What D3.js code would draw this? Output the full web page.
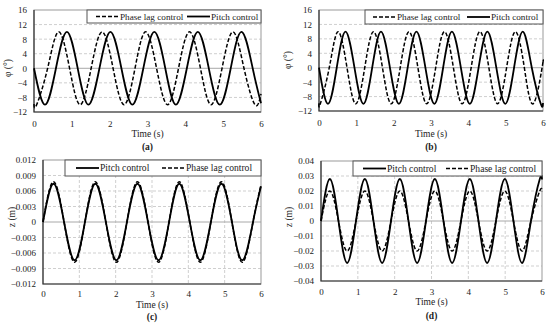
<!DOCTYPE html>
<html>
<head>
<meta charset="utf-8">
<script src="https://cdn.jsdelivr.net/npm/d3@7"></script>
<style>
body { margin: 0; background: #fff; }
svg { display: block; font-family: "Liberation Serif", serif; }
</style>
</head>
<body>
<svg id="chart" width="550" height="323"></svg>
<script>
// ---- data ----
const timeTicks = [0, 1, 2, 3, 4, 5, 6];

// (a) pitch angle, slower case
const tPitchA = [0, 0.29, 0.58, 0.87, 1.155, 1.44, 1.73, 2.02, 2.31, 2.6, 2.89, 3.18, 3.47, 3.75, 4.04, 4.33, 4.62, 4.91, 5.2, 5.49, 5.78, 6];
const vPitchA = [0, -10, 0, 10, 0, -10, 0, 10, 0, -10, 0, 10, 0, -10, 0, 10, 0, -10, 0, 10, 0, -9.6];
const tLagA = [0, 0.07, 0.36, 0.65, 0.94, 1.22, 1.51, 1.8, 2.09, 2.38, 2.67, 2.95, 3.24, 3.53, 3.82, 4.11, 4.4, 4.68, 4.97, 5.26, 5.55, 5.84, 6];
const vLagA = [-9.8, -10, 0, 10, 0, -10, 0, 10, 0, -10, 0, 10, 0, -10, 0, 10, 0, -10, 0, 10, 0, -10, -7];

// (b) pitch angle, faster case
const tPitchB = [0, 0.24, 0.475, 0.71, 0.95, 1.19, 1.425, 1.66, 1.9, 2.14, 2.375, 2.61, 2.85, 3.09, 3.325, 3.56, 3.8, 4.04, 4.275, 4.51, 4.75, 4.99, 5.225, 5.46, 5.7, 5.94, 6];
const vPitchB = [0, -10, 0, 10, 0, -10, 0, 10, 0, -10, 0, 10, 0, -10, 0, 10, 0, -10, 0, 10, 0, -10, 0, 10, 0, -10, -9.8];
const tLagB = [0, 0.035, 0.275, 0.51, 0.75, 0.985, 1.225, 1.46, 1.7, 1.935, 2.175, 2.41, 2.65, 2.885, 3.125, 3.36, 3.6, 3.835, 4.075, 4.31, 4.55, 4.785, 5.025, 5.26, 5.5, 5.735, 5.975, 6];
const vLagB = [-9.9, -10, 0, 10, 0, -10, 0, 10, 0, -10, 0, 10, 0, -10, 0, 10, 0, -10, 0, 10, 0, -10, 0, 10, 0, -10, 0, 1.6];

// (c) heave, slower case
const tHeaveC = [0, 0.29, 0.58, 0.87, 1.155, 1.44, 1.73, 2.02, 2.31, 2.6, 2.89, 3.18, 3.47, 3.75, 4.04, 4.33, 4.62, 4.91, 5.2, 5.49, 5.78, 6];
const vPitchC = [0, 0.0074, 0, -0.0074, 0, 0.0074, 0, -0.0074, 0, 0.0074, 0, -0.0074, 0, 0.0074, 0, -0.0074, 0, 0.0074, 0, -0.0074, 0, 0.0069];
const vLagC = [0, 0.0078, 0, -0.0078, 0, 0.0078, 0, -0.0078, 0, 0.0078, 0, -0.0078, 0, 0.0078, 0, -0.0078, 0, 0.0078, 0, -0.0078, 0, 0.0072];

// (d) heave, faster case
const tHeaveD = [0, 0.24, 0.475, 0.71, 0.95, 1.19, 1.425, 1.66, 1.9, 2.14, 2.375, 2.61, 2.85, 3.09, 3.325, 3.56, 3.8, 4.04, 4.275, 4.51, 4.75, 4.99, 5.225, 5.46, 5.7, 5.94, 6];
const vPitchD = [0, 0.028, 0, -0.028, 0, 0.028, 0, -0.028, 0, 0.028, 0, -0.028, 0, 0.028, 0, -0.028, 0, 0.028, 0, -0.028, 0, 0.028, 0, -0.028, 0, 0.028, 0.0277];
const vLagD = [0, 0.020, 0, -0.020, 0, 0.020, 0, -0.020, 0, 0.020, 0, -0.020, 0, 0.020, 0, -0.020, 0, 0.020, 0, -0.020, 0, 0.020, 0, -0.020, 0, 0.020, 0.0198];

const angleTicks = [-12, -8, -4, 0, 4, 8, 12, 16];
const heaveTicksC = [-0.012, -0.009, -0.006, -0.003, 0, 0.003, 0.006, 0.009, 0.012];
const heaveTicksD = [-0.04, -0.03, -0.02, -0.01, 0, 0.01, 0.02, 0.03, 0.04];

const pitchLabel = 'Pitch control';
const lagLabel = 'Phase lag control';

// ---- drawing ----
const svg = d3.select('#chart');

const fmtAngle = d => d3.format('d')(d);
const fmtC = d => (d === 0 ? '0' : d3.format('.3f')(d));
const fmtD = d => (d === 0 ? '0' : d3.format('.2f')(d));

const panels = [
    {
        box: [34, 261, 10, 112], yDomain: [-12, 16], yTicks: angleTicks, fmt: fmtAngle,
        vGrid: false, yTitle: 'φ (°)', yTitlePos: [8, 68], xPad: 8.5, timeY: 134, cap: '(a)', capY: 147,
        series: [
            { t: tPitchA, v: vPitchA, dashed: false, label: pitchLabel },
            { t: tLagA, v: vLagA, dashed: true, label: lagLabel }
        ],
        legend: { box: [87, 261, 10, 23], fs: 9.2, items: [[96, 1], [187, 0]] }
    },
    {
        box: [319, 543, 10, 111], yDomain: [-12, 16], yTicks: angleTicks, fmt: fmtAngle,
        vGrid: false, yTitle: 'φ (°)', yTitlePos: [288, 60], xPad: 8.5, timeY: 134, cap: '(b)', capY: 147,
        series: [
            { t: tPitchB, v: vPitchB, dashed: false, label: pitchLabel },
            { t: tLagB, v: vLagB, dashed: true, label: lagLabel }
        ],
        legend: { box: [365, 543, 10, 24], fs: 9.2, items: [[373, 1], [467, 0]] }
    },
    {
        box: [43, 261, 160, 284], yDomain: [-0.012, 0.012], yTicks: heaveTicksC, fmt: fmtC,
        vGrid: true, yTitle: 'z (m)', yTitlePos: [12, 217], xPad: 7, timeY: 305, cap: '(c)', capY: 317,
        series: [
            { t: tHeaveC, v: vPitchC, dashed: false, label: pitchLabel },
            { t: tHeaveC, v: vLagC, dashed: true, label: lagLabel }
        ],
        legend: { box: [65, 261, 160, 176], fs: 9.6, items: [[76, 0], [162, 1]] }
    },
    {
        box: [321, 542, 161, 281], yDomain: [-0.04, 0.04], yTicks: heaveTicksD, fmt: fmtD,
        vGrid: true, yTitle: 'z (m)', yTitlePos: [289, 217], xPad: 7.8, timeY: 302, cap: '(d)', capY: 316,
        series: [
            { t: tHeaveD, v: vPitchD, dashed: false, label: pitchLabel },
            { t: tHeaveD, v: vLagD, dashed: true, label: lagLabel }
        ],
        legend: { box: [353, 542, 161, 176], fs: 9.6, items: [[363, 0], [446, 1]] }
    }
];

const drawPanel = p => {
    const [left, right, top, bottom] = p.box;
    const x = d3.scaleLinear().domain([0, 6]).range([left, right]);
    const y = d3.scaleLinear().domain(p.yDomain).range([bottom, top]);
    const g = svg.append('g');

    // dashed grid
    const inner = p.yTicks.slice(1, -1).filter(d => d !== 0);
    g.append('g').selectAll('line').data(inner).join('line')
        .attr('x1', left).attr('x2', right)
        .attr('y1', d => y(d)).attr('y2', d => y(d))
        .attr('stroke', '#cfcfcf').attr('stroke-dasharray', '3,2');
    if (p.vGrid) {
        g.append('g').selectAll('line').data(timeTicks.slice(1, -1)).join('line')
            .attr('x1', d => x(d)).attr('x2', d => x(d))
            .attr('y1', top).attr('y2', bottom)
            .attr('stroke', '#cfcfcf').attr('stroke-dasharray', '3,2');
    }
    g.append('line')
        .attr('x1', left).attr('x2', right).attr('y1', y(0)).attr('y2', y(0))
        .attr('stroke', '#a8a8a8');

    // frame
    g.append('rect')
        .attr('x', left).attr('y', top).attr('width', right - left).attr('height', bottom - top)
        .attr('fill', 'none').attr('stroke', '#999');
    g.append('path')
        .attr('d', `M${left},${top}V${bottom}H${right}`)
        .attr('fill', 'none').attr('stroke', '#333').attr('stroke-width', 1.2);

    // axes (labels only)
    const yAxis = g.append('g').attr('transform', `translate(${left},0)`)
        .call(d3.axisLeft(y).tickValues(p.yTicks).tickFormat(p.fmt).tickSize(0).tickPadding(7));
    const xAxis = g.append('g').attr('transform', `translate(0,${bottom})`)
        .call(d3.axisBottom(x).tickValues(timeTicks).tickFormat(d3.format('d')).tickSize(0).tickPadding(p.xPad));
    [yAxis, xAxis].forEach(a => {
        a.select('.domain').remove();
        a.selectAll('text').attr('font-family', '"Liberation Serif", serif').attr('font-size', 9).attr('fill', '#222');
    });

    // series
    const line = d3.line().x(d => x(d[0])).y(d => y(d[1])).curve(d3.curveNatural);
    p.series.forEach(s => {
        g.append('path')
            .datum(d3.zip(s.t, s.v))
            .attr('d', line)
            .attr('fill', 'none')
            .attr('stroke', '#000')
            .attr('stroke-width', s.dashed ? 1.5 : 1.8)
            .attr('stroke-dasharray', s.dashed ? '4,2' : null);
    });

    // legend
    const lg = p.legend;
    const [lx0, lx1, ly0, ly1] = lg.box;
    const ly = (ly0 + ly1) / 2;
    g.append('rect')
        .attr('x', lx0).attr('y', ly0).attr('width', lx1 - lx0).attr('height', ly1 - ly0)
        .attr('fill', '#fff').attr('stroke', '#555');
    lg.items.forEach(([sx, si]) => {
        const s = p.series[si];
        g.append('line')
            .attr('x1', sx).attr('x2', sx + 23).attr('y1', ly).attr('y2', ly)
            .attr('stroke', '#000').attr('stroke-width', s.dashed ? 1.5 : 1.8)
            .attr('stroke-dasharray', s.dashed ? '4,2' : null);
        g.append('text')
            .attr('x', sx + 24).attr('y', ly).attr('dy', '0.35em')
            .attr('font-size', lg.fs).attr('fill', '#222')
            .text(s.label);
    });

    // titles
    g.append('text')
        .attr('transform', `translate(${p.yTitlePos[0]},${p.yTitlePos[1]}) rotate(-90)`)
        .attr('text-anchor', 'middle').attr('dy', '0.35em')
        .attr('font-size', 9.5).attr('fill', '#222')
        .text(p.yTitle);
    g.append('text')
        .attr('x', (left + right) / 2).attr('y', p.timeY).attr('dy', '0.35em')
        .attr('text-anchor', 'middle').attr('font-size', 9.5).attr('fill', '#222')
        .text('Time (s)');
    g.append('text')
        .attr('x', (left + right) / 2).attr('y', p.capY).attr('dy', '0.35em')
        .attr('text-anchor', 'middle').attr('font-size', 9.5).attr('font-weight', 'bold').attr('fill', '#222')
        .text(p.cap);
};

panels.forEach(drawPanel);
</script>
</body>
</html>
